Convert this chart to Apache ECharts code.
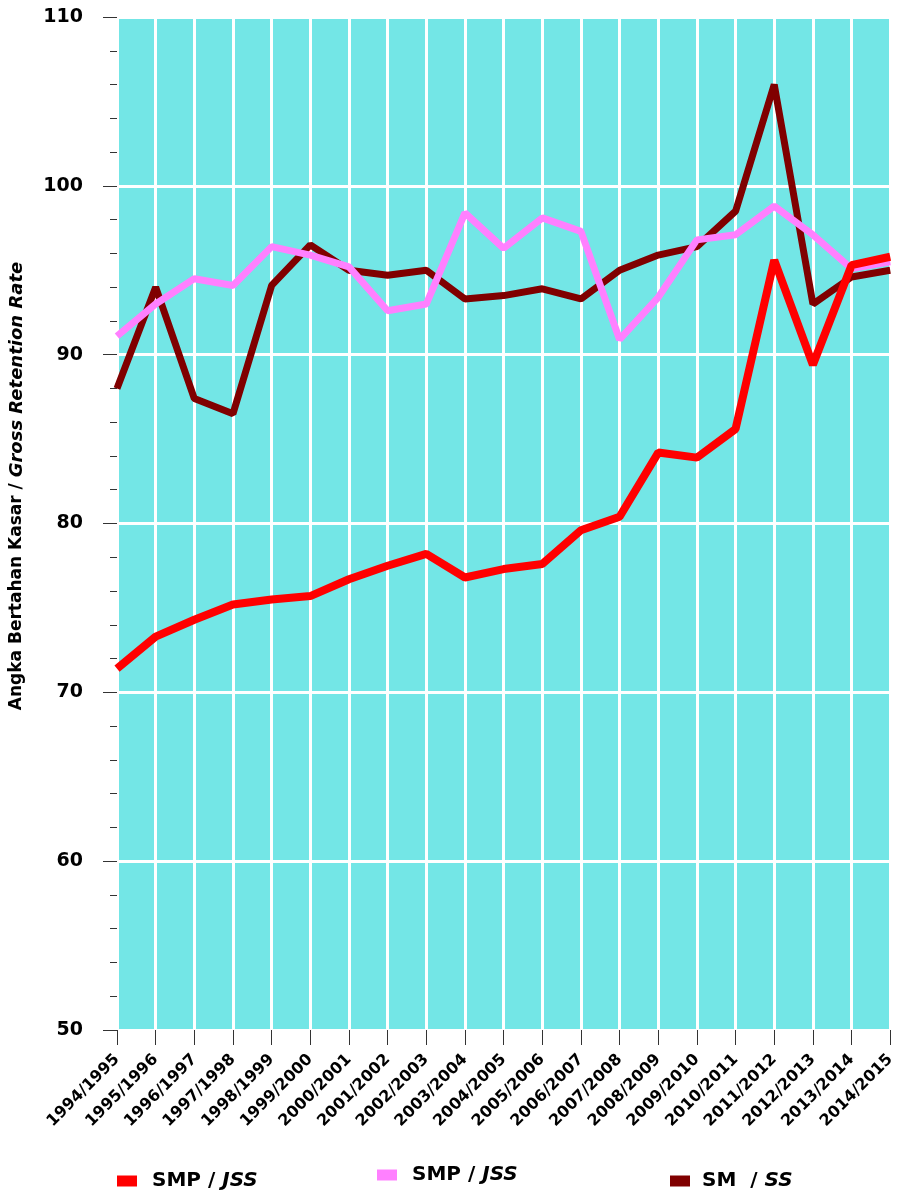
<!DOCTYPE html>
<html>
<head>
<meta charset="utf-8">
<script src="https://cdn.jsdelivr.net/npm/echarts@6/dist/echarts.min.js"></script>
<style>
html,body{margin:0;padding:0;background:#fff;}
#c{width:898px;height:1190px;}
</style>
</head>
<body>
<div id="c"></div>
<script>
const categories = ['1994/1995','1995/1996','1996/1997','1997/1998','1998/1999','1999/2000','2000/2001','2001/2002','2002/2003','2003/2004','2004/2005','2005/2006','2006/2007','2007/2008','2008/2009','2009/2010','2010/2011','2011/2012','2012/2013','2013/2014','2014/2015'];
const smpRed  = [71.4,73.3,74.3,75.2,75.5,75.7,76.7,77.5,78.2,76.8,77.3,77.6,79.6,80.4,84.2,83.9,85.6,95.6,89.4,95.3,95.8];
const smpPink = [91.1,93.0,94.5,94.1,96.4,95.9,95.2,92.6,93.0,98.4,96.3,98.1,97.3,90.9,93.4,96.8,97.1,98.8,97.1,95.1,95.5];
const smSS    = [88.0,94.0,87.4,86.5,94.1,96.5,95.0,94.7,95.0,93.3,93.5,93.9,93.3,95.0,95.9,96.4,98.5,106.0,93.0,94.6,95.0];
const yTicks = {min:50, max:110, interval:10};
const seriesNames = ['SMP / JSS', 'SMP / JSS ', 'SM  / SS'];
const legendLabels = [['SMP / ','JSS'], ['SMP / ','JSS'], ['SM  / ','SS']];

const chart = echarts.init(document.getElementById('c'), null, {renderer:'canvas'});
const font = 'DejaVu Sans, Verdana, sans-serif';
function legendFmt(name){
  const i = seriesNames.indexOf(name);
  return '{n|' + legendLabels[i][0] + '}{i|' + legendLabels[i][1] + '}';
}
const legendRich = {
  n:{fontFamily:font, fontWeight:'bold', fontSize:20, color:'#000'},
  i:{fontFamily:font, fontWeight:'bold', fontStyle:'italic', fontSize:20, color:'#000'}
};
function mkLegend(idx, left, top, gap){
  return {
    data:[seriesNames[idx]], left:left, top:top, itemWidth:20, itemHeight:11, itemGap:0,
    icon:'rect', formatter:legendFmt, selectedMode:false,
    textStyle:{rich:legendRich, padding:[0,0,0,gap-5]}
  };
}
chart.setOption({
  animation:false,
  backgroundColor:'#fff',
  grid:{left:117, right:5, top:17, bottom:160, show:true, backgroundColor:'#73E6E6', borderWidth:0},
  legend:[
    mkLegend(0, 112, 1166, 15),
    mkLegend(1, 372, 1160, 15),
    mkLegend(2, 665, 1166, 12)
  ],
  graphic:[{
    type:'text', x:17, y:486, rotation:Math.PI/2,
    style:{
      text:'{a|Angka Bertahan Kasar / }{b|Gross Retention Rate}',
      align:'center', verticalAlign:'middle',
      rich:{
        a:{fontFamily:'DejaVu Sans', fontWeight:'bold', fontSize:17, fill:'#000'},
        b:{fontFamily:'DejaVu Sans', fontWeight:'bold', fontStyle:'italic', fontSize:18, fill:'#000'}
      }
    }
  }],
  xAxis:{
    type:'category', data:categories, boundaryGap:false,
    axisLine:{show:false},
    axisTick:{show:true, alignWithLabel:true, length:15, interval:0, lineStyle:{color:'#333', width:1}},
    axisLabel:{interval:0, rotate:45, margin:27, fontFamily:font, fontWeight:'bold', fontSize:16, color:'#000'},
    splitLine:{show:true, interval:0, lineStyle:{color:'#fff', width:3}}
  },
  yAxis:{
    type:'value', min:yTicks.min, max:yTicks.max, interval:yTicks.interval,
    axisLine:{show:false},
    axisTick:{show:true, length:14, lineStyle:{color:'#333', width:1}},
    minorTick:{show:true, splitNumber:5, length:7, lineStyle:{color:'#333', width:1}},
    axisLabel:{margin:34, fontFamily:font, fontWeight:'bold', fontSize:19, color:'#000'},
    splitLine:{show:true, lineStyle:{color:'#fff', width:3}}
  },
  series:[
    {name:seriesNames[0], type:'line', data:smpRed, symbol:'none', z:5, color:'#FF0000',
     lineStyle:{color:'#FF0000', width:8}},
    {name:seriesNames[1], type:'line', data:smpPink, symbol:'none', z:4, color:'#FF80FF',
     lineStyle:{color:'#FF80FF', width:7}},
    {name:seriesNames[2], type:'line', data:smSS, symbol:'none', z:3, color:'#800000',
     lineStyle:{color:'#800000', width:7}}
  ]
});
</script>
</body>
</html>
